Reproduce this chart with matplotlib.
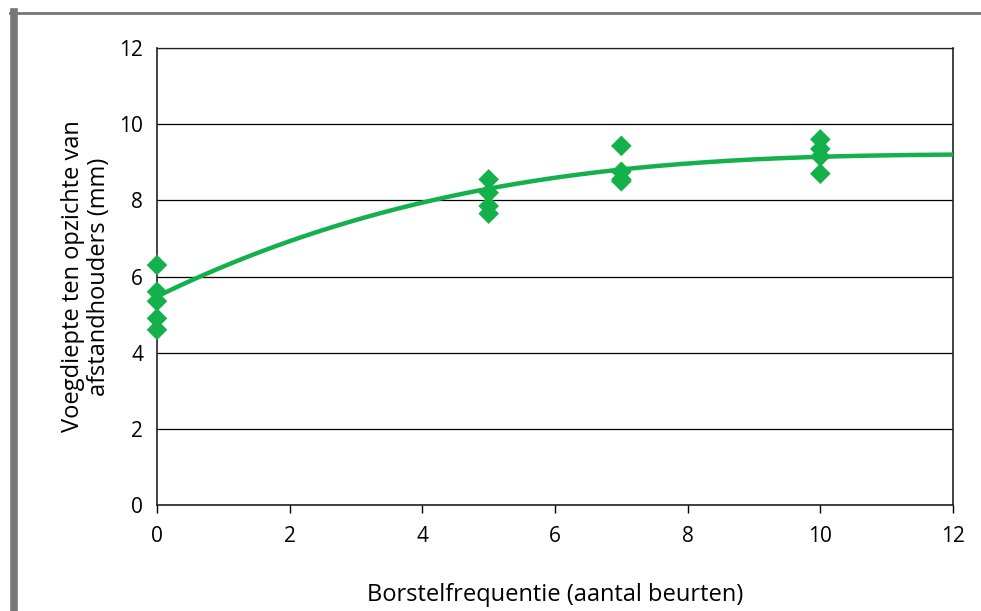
import numpy as np
import matplotlib

matplotlib.use('Agg')
import matplotlib.pyplot as plt
from matplotlib.lines import Line2D

plt.rcParams['font.family'] = ['Open Sans', 'DejaVu Sans']

# brushing frequency vs joint depth
freq = [0, 0, 0, 0, 0, 5, 5, 5, 5, 7, 7, 7, 7, 10, 10, 10, 10]
depth = [6.3, 5.6, 5.35, 4.9, 4.6,
         8.55, 8.2, 7.85, 7.65,
         9.43, 8.75, 8.55, 8.5,
         9.6, 9.35, 9.15, 8.7]

# trend line
trend_x = [0, 0.75, 2.26, 4.07, 4.97, 6.98, 10, 12]
trend_y = [5.46, 6.09, 7.09, 7.99, 8.27, 8.79, 9.17, 9.19]

xticks = [0, 2, 4, 6, 8, 10, 12]
yticks = [0, 2, 4, 6, 8, 10, 12]
green = '#13b04b'

fig = plt.figure(figsize=(9.81, 6.11), dpi=100)
ax = fig.add_axes([157/981, 1 - 505/611, (953 - 157)/981, (505 - 48)/611])

coef = np.polyfit(trend_x, trend_y, 3)
xs = np.linspace(0, 12, 200)
ax.plot(xs, np.polyval(coef, xs), color=green, lw=3.2, zorder=3)
ax.scatter(freq, depth, marker='D', s=110, color=green, edgecolors='none',
           zorder=4, clip_on=False)

ax.set_xlim(0, 12)
ax.set_ylim(0, 12)
ax.set_xticks(xticks)
ax.set_yticks(yticks)
ax.tick_params(axis='x', length=6, width=1, labelsize=15, pad=9)
ax.tick_params(axis='y', length=0, labelsize=15, pad=10)
ax.grid(axis='y', color='black', lw=0.9)
ax.set_axisbelow(True)
for s in ax.spines.values():
    s.set_linewidth(1.2)
    s.set_color('#222222')
ax.spines['top'].set_linewidth(0.9)

ax.set_ylabel('Voegdiepte ten opzichte van\nafstandhouders (mm)', fontsize=17,
              linespacing=1.1, labelpad=6)
ax.set_xlabel('Borstelfrequentie (aantal beurten)', fontsize=17, labelpad=26)

# gray page frame
fig.add_artist(Line2D([13.5/981, 13.5/981], [0, 1 - 12/611], color='#777777',
                      lw=5.5, transform=fig.transFigure))
fig.add_artist(Line2D([10/981, 1], [1 - 13/611, 1 - 13/611], color='#777777',
                      lw=2, transform=fig.transFigure))

fig.savefig('out.png', dpi=100)
